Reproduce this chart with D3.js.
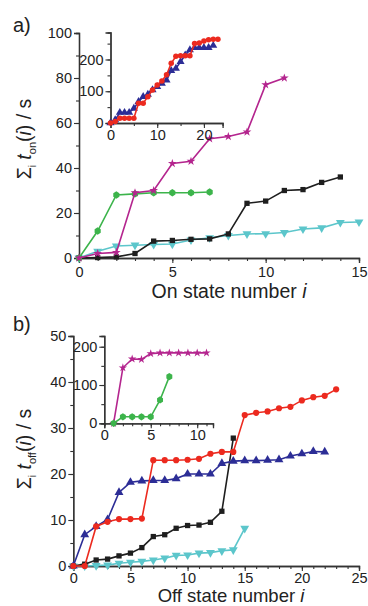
<!DOCTYPE html>
<html><head><meta charset="utf-8">
<script src="https://cdn.jsdelivr.net/npm/d3@7"></script>
<style>
html,body{margin:0;padding:0;background:#fff;}
svg text{font-family:"Liberation Sans",Arial,sans-serif;fill:#222;}
</style></head>
<body><svg id="c" width="368" height="606"></svg>
<script>
// ---------- DATA ----------
// Panel a (on states): cumulative on-time, state i = 0,1,2,...
const onBlack   = [0,0.2,0.5,2,7.5,7.8,8.3,8.5,10.7,24.3,25.3,30,30.4,33.6,36];
const onCyan    = [0,3,5.3,5.7,6,6.2,8,9,10,10.7,10.8,11.3,12.9,13.4,15.8,16];
const onGreen   = [0,12,28,28.5,29,29,29,29.3];
const onMagenta = [0,2,2.5,29,30,42,43,53,54,56,77,80];
// Inset a
const onInsetRed  = [0,5,15,15,15,15,62,62,83,104,120,132,152,188,210,212,212,212,250,252,258,262,264,264];
const onInsetBlue = [0,10,33,33,33,46,67,83,90,104,114,125,135,165,172,193,214,230,237,237,237,237,244];
// Panel b (off states)
const offBlack = [0,0.4,1.3,1.5,2.2,2.8,4,6.4,6.8,8.2,8.8,8.9,9.5,11.9,27.8];
const offRed   = [0,0,8.6,9.6,10.2,10.2,10.3,23,23,23,23.1,23.3,24.4,24.8,24.8,32.8,33.3,33.6,34.3,34.6,36,36.7,37,38.4];
const offBlue  = [0,6.8,8.6,10.1,16,18.2,18.5,18.6,18.6,19,20,20,20,22.3,22.8,22.9,22.9,23,23.1,23.9,24.4,24.9,24.8];
const offCyan  = [0,0,0.1,0.2,0.6,0.8,1,1.3,1.7,2.3,2.4,2.8,2.9,3.3,3.5,8.2];
// Inset b (first state number is 1)
const offInsetStart = 1;
const offInsetMagenta = [0,145,168,167,182,184,184,184,184,184,184];
const offInsetGreen   = [0,17,17,17,17,61,122];
// Tick labels
const aXTicks = [0,5,10,15], aYTicks = [0,20,40,60,80,100];
const aInXTicks = [0,10,20], aInYTicks = [0,100,200];
const bXTicks = [0,5,10,15,20,25], bYTicks = [0,10,20,30,40,50];
const bInXTicks = [0,5,10], bInYTicks = [0,100,200];

// ---------- STYLE ----------
const COL = {black:"#1e1e1e", cyan:"#5cc6cb", green:"#3cb44b", magenta:"#b4258e", red:"#ec2a1f", blue:"#2c2d96"};
const svg = d3.select("#c");

const hexagon = {draw(ctx, size){
  const r = Math.sqrt(size/2.6);
  for(let k=0;k<6;k++){const a=Math.PI/2+k*Math.PI/3; const x=r*0.95*Math.cos(a), y=r*Math.sin(a); k?ctx.lineTo(x,y):ctx.moveTo(x,y);} ctx.closePath();}};
const triDown = {draw(ctx,size){const s=Math.sqrt(size*4/Math.sqrt(3)); const h=s*Math.sqrt(3)/2; ctx.moveTo(0,h*2/3); ctx.lineTo(s/2,-h/3); ctx.lineTo(-s/2,-h/3); ctx.closePath();}};
const triUp = {draw(ctx,size){const s=Math.sqrt(size*4/Math.sqrt(3)); const h=s*Math.sqrt(3)/2; ctx.moveTo(0,-h*2/3); ctx.lineTo(s/2,h/3); ctx.lineTo(-s/2,h/3); ctx.closePath();}};

function axis(g, scale, orient, major, minor, fmt, fs){
  const maj = (orient==="left"?d3.axisLeft(scale):d3.axisBottom(scale)).tickValues(major).tickSize(5).tickPadding(2).tickFormat(fmt||d3.format("d"));
  const mn = (orient==="left"?d3.axisLeft(scale):d3.axisBottom(scale)).tickValues(minor).tickSize(3).tickFormat("");
  const a = g.append("g").call(maj);
  g.append("g").call(mn);
  g.selectAll("path.domain").attr("stroke","#333").attr("stroke-width",1.3);
  g.selectAll(".tick line").attr("stroke","#333").attr("stroke-width",1.1);
  a.selectAll("text").attr("font-size",fs).attr("fill","#222").style("font-family","Liberation Sans, Arial, sans-serif");
  return a;
}
function series(g, x, y, data, start, color, sym, size){
  const pts = data.map((v,k)=>[start+k, v]);
  g.append("path").datum(pts).attr("fill","none").attr("stroke",color).attr("stroke-width",1.6)
    .attr("d", d3.line().x(d=>x(d[0])).y(d=>y(d[1])));
  g.selectAll(null).data(pts).join("path")
    .attr("transform",d=>`translate(${x(d[0])},${y(d[1])})`)
    .attr("d", d3.symbol(sym, size)()).attr("fill",color);
}
function range(a,b,s){const r=[];for(let v=a;v<=b+1e-9;v+=s)r.push(+v.toFixed(3));return r;}

// ---------- PANEL A ----------
const xA = d3.scaleLinear([0,15],[79,359]);
const yA = d3.scaleLinear([0,100],[258,33]);
const gA = svg.append("g");
axis(gA.append("g").attr("transform","translate(0,258)"), xA, "bottom", aXTicks, range(0,15,1), null, 14.5)
  .selectAll("text").attr("dy","0.85em");
axis(gA.append("g").attr("transform","translate(79,0)"), yA, "left", aYTicks, range(0,100,10), null, 14.5);
series(gA, xA, yA, onCyan, 0, COL.cyan, triDown, 34);
series(gA, xA, yA, onBlack, 0, COL.black, d3.symbolSquare, 28);
series(gA, xA, yA, onGreen, 0, COL.green, hexagon, 36);
series(gA, xA, yA, onMagenta, 0, COL.magenta, d3.symbolStar, 24);

// inset a
const xIA = d3.scaleLinear([0,24],[110.5,222.6]);
const yIA = d3.scaleLinear([0,285],[123,32.5]);
axis(gA.append("g").attr("transform","translate(0,123)"), xIA, "bottom", aInXTicks, range(0,20,5), null, 14.5)
  .selectAll("text").attr("dy","0.7em");
axis(gA.append("g").attr("transform","translate(110.5,0)"), yIA, "left", aInYTicks, range(0,250,50), null, 14.5);
series(gA, xIA, yIA, onInsetBlue, 0, COL.blue, triUp, 28);
series(gA, xIA, yIA, onInsetRed, 0, COL.red, d3.symbolCircle, 24);

// ---------- PANEL B ----------
const xB = d3.scaleLinear([0,25],[73.3,359]);
const yB = d3.scaleLinear([0,50],[566,336]);
const gB = svg.append("g");
axis(gB.append("g").attr("transform","translate(0,566)"), xB, "bottom", bXTicks, range(0,25,1), null, 14.5)
  .selectAll("text").attr("dy","0.68em");
axis(gB.append("g").attr("transform","translate(73.3,0)"), yB, "left", bYTicks, range(0,50,5), null, 14.5);
series(gB, xB, yB, offCyan, 0, COL.cyan, triDown, 34);
series(gB, xB, yB, offBlack, 0, COL.black, d3.symbolSquare, 28);
series(gB, xB, yB, offBlue, 0, COL.blue, triUp, 34);
series(gB, xB, yB, offRed, 0, COL.red, d3.symbolCircle, 30);

// inset b
const xIB = d3.scaleLinear([0,11.7],[104.3,213]);
const yIB = d3.scaleLinear([0,228],[423.3,336]);
axis(gB.append("g").attr("transform","translate(0,423.3)"), xIB, "bottom", bInXTicks, range(0,11,1), null, 14.5)
  .selectAll("text").attr("dy","0.7em");
axis(gB.append("g").attr("transform","translate(104.3,0)"), yIB, "left", bInYTicks, range(0,200,50), null, 14.5);
series(gB, xIB, yIB, offInsetMagenta, offInsetStart, COL.magenta, d3.symbolStar, 22);
series(gB, xIB, yIB, offInsetGreen, offInsetStart, COL.green, hexagon, 34);

// ---------- TEXT ----------
svg.append("text").attr("x",13).attr("y",32).attr("font-size",20).text("a)");
svg.append("text").attr("x",13).attr("y",331).attr("font-size",20).text("b)");

function xlabel(x,y,txt,fs){
  const t = svg.append("text").attr("x",x).attr("y",y).attr("text-anchor","middle").attr("font-size",fs);
  t.append("tspan").text(txt+" ");
  t.append("tspan").attr("font-style","italic").text("i");
}
xlabel(229,298,"On state number",19.5);
xlabel(231,602,"Off state number",18.5);

function ylabel(cx,cy,sub){
  const t = svg.append("text").attr("transform",`translate(${cx},${cy}) rotate(-90)`).attr("text-anchor","middle").attr("font-size",19.5);
  t.append("tspan").text("Σ");
  t.append("tspan").attr("font-size",10).attr("dy",5).text("i");
  t.append("tspan").attr("dy",-5).text(" ");
  t.append("tspan").attr("font-style","italic").text("t");
  t.append("tspan").attr("font-size",11).attr("dy",5).text(sub);
  t.append("tspan").attr("dy",-5).text("(");
  t.append("tspan").attr("font-style","italic").text("i");
  t.append("tspan").text(") / s");
}
ylabel(31,139,"on");
ylabel(31,449,"off");
</script></body></html>
